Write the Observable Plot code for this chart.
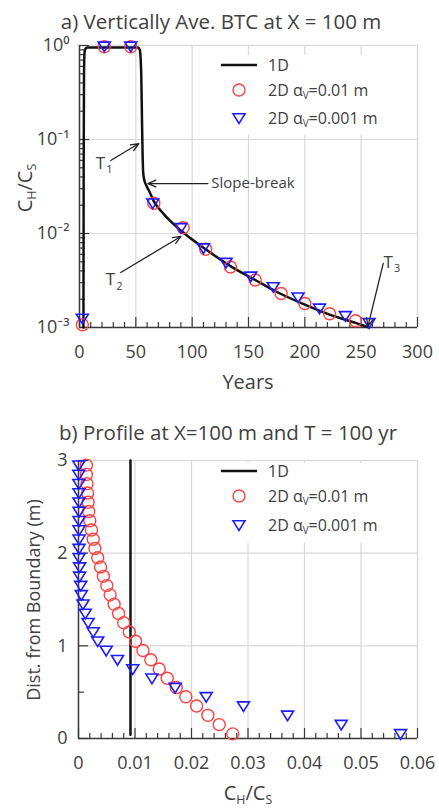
<!DOCTYPE html>
<html><head><meta charset="utf-8">
<script src="https://cdn.jsdelivr.net/npm/d3@7"></script>
<script src="https://cdn.jsdelivr.net/npm/@observablehq/plot@0.6"></script>
<style>
body{margin:0;background:#fff;font-family:"Open Sans",Lato,sans-serif;color:#404040;}
#wrap{position:relative;width:439px;height:810px;overflow:hidden;background:#fff;}
.abs{position:absolute;white-space:nowrap;line-height:1;}
.c{transform:translate(-50%,-50%);}
.rot{transform:translate(-50%,-50%) rotate(-90deg);}
sub{font-size:0.62em;vertical-align:-0.35em;line-height:0;}
.legend{position:absolute;background:#fff;}
.legrow{position:absolute;left:0;height:20px;display:flex;align-items:center;font-size:16px;white-space:nowrap;transform:translateY(-50%);}
.legrow svg{width:48px;height:20px;margin-right:5px;}
#plotA,#plotB{position:absolute;left:0;}
</style></head><body>
<div id="wrap">
  <div id="plotA" style="top:0px"></div>
  <div id="plotB" style="top:400px"></div>
</div>
<script>
// ---------------- Panel a: vertically averaged BTC at X = 100 m ----------------
const btc1DYears = [3.5, 3.7, 4.0, 4.5, 5.5, 7, 10, 30, 50, 52, 53.5, 54.8, 55.5, 56, 56.5, 57.5, 59, 62, 66, 75, 91, 112, 134, 156, 178, 200, 222, 245, 257];
const btc1DConc  = [0.001, 0.05, 0.5, 0.85, 0.93, 0.95, 0.955, 0.955, 0.955, 0.95, 0.9, 0.5, 0.15, 0.07, 0.045, 0.037, 0.033, 0.028, 0.022, 0.016, 0.0105, 0.0068, 0.0045, 0.0032, 0.0023, 0.00175, 0.00137, 0.00112, 0.001];

const btcAv001Years = [2.5, 22, 45.5, 66, 92, 112, 134, 156, 179, 200, 222, 245];
const btcAv001Conc  = [0.00107, 0.97, 0.97, 0.021, 0.0115, 0.0068, 0.0044, 0.0032, 0.0023, 0.0018, 0.0014, 0.00118];

const btcAv0001Years = [2.5, 22, 45.5, 65, 90, 110, 130, 152, 172, 194, 213, 236, 257];
const btcAv0001Conc  = [0.00125, 0.98, 0.98, 0.021, 0.0115, 0.007, 0.0049, 0.0035, 0.0027, 0.0021, 0.0016, 0.00133, 0.00112];

const yearTicks = [0, 50, 100, 150, 200, 250, 300];
const concTicks = [0.001, 0.01, 0.1, 1];
const concTickLabels = ["10\u207B\u00B3", "10\u207B\u00B2", "10\u207B\u00B9", "10\u2070"];

// annotations: labels with subscripts (T1, T2, T3) and the slope-break note, in data units
const tLabels = ["T", "T", "T"];
const tSubs   = ["1", "2", "3"];
const tTextX  = [18.5, 27.5, 274];
const tTextY  = [0.056, 0.0032, 0.0049];
const tFromX  = [27.7, 36.6, 269.6];
const tFromY  = [0.0598, 0.00385, 0.0048];
const tToX    = [52.7, 90, 256];
const tToY    = [0.0906, 0.0093, 0.00103];

const breakLabel = ["Slope-break"];
const breakTextX = [117];
const breakTextY = [0.034];
const breakFromX = [114];
const breakToX   = [60.7];

// ---------------- Panel b: profile at X = 100 m and T = 100 yr ----------------
const profDist = [0.05, 0.15, 0.25, 0.35, 0.45, 0.55, 0.65, 0.75, 0.85, 0.95, 1.05, 1.15, 1.25, 1.35, 1.45, 1.55, 1.65, 1.75, 1.85, 1.95, 2.05, 2.15, 2.25, 2.35, 2.45, 2.55, 2.65, 2.75, 2.85, 2.95];
const profAv001Conc  = [0.0273, 0.0249, 0.0229, 0.0209, 0.0190, 0.0173, 0.0157, 0.0143, 0.0128, 0.0114, 0.0101, 0.0090, 0.0080, 0.0071, 0.0063, 0.0056, 0.0050, 0.0044, 0.0039, 0.0034, 0.0029, 0.0026, 0.0023, 0.0020, 0.0018, 0.0017, 0.0016, 0.0015, 0.0014, 0.0014];
const profAv0001Conc = [0.0570, 0.0465, 0.0370, 0.0292, 0.0226, 0.0171, 0.0130, 0.0096, 0.0069, 0.0049, 0.0034, 0.0026, 0.0017, 0.0012, 0.0008, 0.0005, 0.0004, 0.0002, 0.0002, 0.0001, 0.0001, 0.0001, 0.0001, 0.0001, 0.0001, 0.00008, 0.00008, 0.00006, 0.00006, 0.00005];
const prof1DConc = [0.0092, 0.0092];
const prof1DDist = [0.04, 3.0];

const profCTicks = [0, 0.01, 0.02, 0.03, 0.04, 0.05, 0.06];
const profCTickLabels = ["0", "0.01", "0.02", "0.03", "0.04", "0.05", "0.06"];
const profDTicks = [0, 1, 2, 3];

// ---------------- styles ----------------
const gridColor = "#d9d9d9";
const axisColor = "#3a3a3a";
const textColor = "#404040";
const redColor = "#ff4040";
const blueColor = "#1c1cff";
const font = "'Open Sans', Lato, sans-serif";

const triDown = {
  draw(ctx, size) {
    const r = Math.sqrt(size / Math.PI);
    ctx.moveTo(-r, -r * 0.7);
    ctx.lineTo(r, -r * 0.7);
    ctx.lineTo(0, r * 0.9);
    ctx.closePath();
  }
};

const zip = (xs, ys) => xs.map((x, i) => ({x, y: ys[i]}));

// ---------------- Plot A ----------------
{
  const W = 439, H = 400, mt = 45, mb = 73, ml = 79, mr = 22;
  const ph = H - mt - mb, pw = W - ml - mr;
  const minorYears = d3.range(0, 301, 10).filter(d => d % 50 !== 0);
  const minorConc = [];
  for (const dec of [0.001, 0.01, 0.1]) for (let k = 2; k <= 9; k++) minorConc.push(dec * k);
  const labelMap = new Map(concTicks.map((d, i) => [d, concTickLabels[i]]));
  const tAnn = tLabels.map((t, i) => ({t, sub: tSubs[i], x: tTextX[i], y: tTextY[i], x1: tFromX[i], y1: tFromY[i], x2: tToX[i], y2: tToY[i]}));
  const bAnn = breakLabel.map((t, i) => ({t, x: breakTextX[i], y: breakTextY[i], x1: breakFromX[i], y1: breakTextY[i], x2: breakToX[i], y2: breakTextY[i]}));
  const plotA = Plot.plot({
    width: W, height: H, marginTop: mt, marginBottom: mb, marginLeft: ml, marginRight: mr,
    x: {domain: [0, 300]},
    y: {type: "log", domain: [0.001, 1]},
    style: {fontFamily: font, fontSize: "18px", color: textColor, background: "transparent", overflow: "visible"},
    marks: [
      Plot.ruleX(yearTicks.slice(1), {stroke: gridColor, strokeWidth: 1.2}),
      Plot.ruleY(concTicks.slice(1), {stroke: gridColor, strokeWidth: 1.2}),
      Plot.frame({stroke: gridColor, strokeWidth: 1.2}),
      Plot.ruleX(minorYears, {insetTop: ph - 5, stroke: axisColor, strokeWidth: 1.2}),
      Plot.ruleX(yearTicks, {insetTop: ph - 10, stroke: axisColor, strokeWidth: 1.2}),
      Plot.ruleY(minorConc, {insetRight: pw - 6, stroke: axisColor, strokeWidth: 1.2}),
      Plot.ruleY(concTicks, {insetRight: pw - 10, stroke: axisColor, strokeWidth: 1.2}),
      Plot.ruleX([0], {stroke: axisColor, strokeWidth: 1.5}),
      Plot.ruleY([0.001], {stroke: axisColor, strokeWidth: 1.5}),
      Plot.axisX(yearTicks, {tickSize: 0, tickPadding: 18, fontSize: 18, label: null, tickFormat: d => String(d)}),
      Plot.axisY(concTicks, {tickSize: 0, tickPadding: 10, fontSize: 18, label: null, tickFormat: d => labelMap.get(d)}),
      Plot.line(zip(btc1DYears, btc1DConc), {x: "x", y: "y", stroke: "#111", strokeWidth: 2.5, curve: "monotone-x"}),
      Plot.dot(zip(btcAv001Years, btcAv001Conc), {x: "x", y: "y", r: 6, stroke: redColor, strokeWidth: 1.4, fill: "none"}),
      Plot.dot(zip(btcAv0001Years, btcAv0001Conc), {x: "x", y: "y", r: 6, symbol: triDown, stroke: blueColor, strokeWidth: 1.6, fill: "none"}),
      Plot.arrow(tAnn, {x1: "x1", y1: "y1", x2: "x2", y2: "y2", stroke: "#222", strokeWidth: 1.3, headLength: 10, headAngle: 45}),
      Plot.arrow(bAnn, {x1: "x1", y1: "y1", x2: "x2", y2: "y2", stroke: "#222", strokeWidth: 1.3, headLength: 10, headAngle: 45}),
      Plot.text(tAnn, {x: "x", y: "y", text: "t", fontSize: 17, fill: textColor, textAnchor: "middle"}),
      Plot.text(tAnn, {x: "x", y: "y", text: "sub", fontSize: 11, fill: textColor, dx: 9, dy: 6}),
      Plot.text(bAnn, {x: "x", y: "y", text: "t", fontSize: 15, fill: textColor, textAnchor: "start"})
    ]
  });
  document.getElementById("plotA").appendChild(plotA);
}

// ---------------- Plot B ----------------
{
  const W = 439, H = 410, mt = 60, mb = 72, ml = 78, mr = 22;
  const ph = H - mt - mb, pw = W - ml - mr;
  const minorC = d3.range(0, 0.0601, 0.002).filter((d, i) => i % 5 !== 0);
  const minorD = [0.5, 1.5, 2.5];
  const labelMap = new Map(profCTicks.map((d, i) => [d, profCTickLabels[i]]));
  const plotB = Plot.plot({
    width: W, height: H, marginTop: mt, marginBottom: mb, marginLeft: ml, marginRight: mr,
    x: {domain: [0, 0.06]},
    y: {domain: [0, 3]},
    style: {fontFamily: font, fontSize: "18px", color: textColor, background: "transparent", overflow: "visible"},
    marks: [
      Plot.ruleX(profCTicks.slice(1), {stroke: gridColor, strokeWidth: 1.2}),
      Plot.ruleY(profDTicks.slice(1), {stroke: gridColor, strokeWidth: 1.2}),
      Plot.frame({stroke: gridColor, strokeWidth: 1.2}),
      Plot.ruleX(minorC, {insetTop: ph - 5, stroke: axisColor, strokeWidth: 1.2}),
      Plot.ruleX(profCTicks, {insetTop: ph - 10, stroke: axisColor, strokeWidth: 1.2}),
      Plot.ruleY(minorD, {insetRight: pw - 6, stroke: axisColor, strokeWidth: 1.2}),
      Plot.ruleY(profDTicks, {insetRight: pw - 10, stroke: axisColor, strokeWidth: 1.2}),
      Plot.ruleX([0], {stroke: axisColor, strokeWidth: 1.5}),
      Plot.ruleY([0], {stroke: axisColor, strokeWidth: 1.5}),
      Plot.axisX(profCTicks, {tickSize: 0, tickPadding: 18, fontSize: 18, label: null, tickFormat: d => labelMap.get(d)}),
      Plot.axisY(profDTicks, {tickSize: 0, tickPadding: 11, fontSize: 18, label: null, tickFormat: d => String(d)}),
      Plot.line(zip(prof1DConc, prof1DDist), {x: "x", y: "y", stroke: "#111", strokeWidth: 2.5}),
      Plot.dot(zip(profAv001Conc, profDist), {x: "x", y: "y", r: 6, stroke: redColor, strokeWidth: 1.4, fill: "none"}),
      Plot.dot(zip(profAv0001Conc, profDist), {x: "x", y: "y", r: 6, symbol: triDown, stroke: blueColor, strokeWidth: 1.6, fill: "none"})
    ]
  });
  document.getElementById("plotB").appendChild(plotB);
}

// ---------------- HTML text: titles, axis labels, legends ----------------
const wrap = document.getElementById("wrap");
function addDiv(html, style, cls) {
  const d = document.createElement("div");
  d.className = "abs " + (cls || "");
  d.innerHTML = html;
  Object.assign(d.style, style);
  wrap.appendChild(d);
  return d;
}
addDiv("a) Vertically Ave. BTC at X = 100 m", {left: "221px", top: "21px", fontSize: "20.5px"}, "c");
addDiv("b) Profile at X=100 m and T = 100 yr", {left: "228px", top: "432px", fontSize: "20.5px"}, "c");
addDiv("Years", {left: "248px", top: "382px", fontSize: "20px"}, "c");
addDiv("C<sub>H</sub>/C<sub>S</sub>", {left: "25px", top: "188px", fontSize: "20px"}, "rot");
addDiv("Dist. from Boundary (m)", {left: "33px", top: "600px", fontSize: "18px"}, "rot");
addDiv("C<sub>H</sub>/C<sub>S</sub>", {left: "248px", top: "793px", fontSize: "20px"}, "c");

const legendItems = ["1D", "2D \u03B1<sub>V</sub>=0.01 m", "2D \u03B1<sub>V</sub>=0.001 m"];
const legendSymbols = [
  `<svg viewBox="0 0 48 20"><line x1="6" x2="42" y1="10" y2="10" stroke="#111" stroke-width="2.5"/></svg>`,
  `<svg viewBox="0 0 48 20"><circle cx="24" cy="10" r="6" fill="none" stroke="${redColor}" stroke-width="1.4"/></svg>`,
  `<svg viewBox="0 0 48 20"><path d="M18,5.8L30,5.8L24,15.4Z" fill="none" stroke="${blueColor}" stroke-width="1.6"/></svg>`
];
function addLegend(top, height, rowYs) {
  const lg = document.createElement("div");
  lg.className = "legend";
  Object.assign(lg.style, {left: "205px", top: top + "px", width: "205px", height: height + "px"});
  legendItems.forEach((t, i) => {
    const r = document.createElement("div");
    r.className = "legrow";
    r.style.top = (rowYs[i] - top) + "px";
    r.style.left = "10px";
    r.innerHTML = legendSymbols[i] + "<span>" + t + "</span>";
    lg.appendChild(r);
  });
  wrap.appendChild(lg);
}
addLegend(55, 80, [65, 90, 118]);
addLegend(463, 80, [471, 496, 525]);
</script>
</body></html>
